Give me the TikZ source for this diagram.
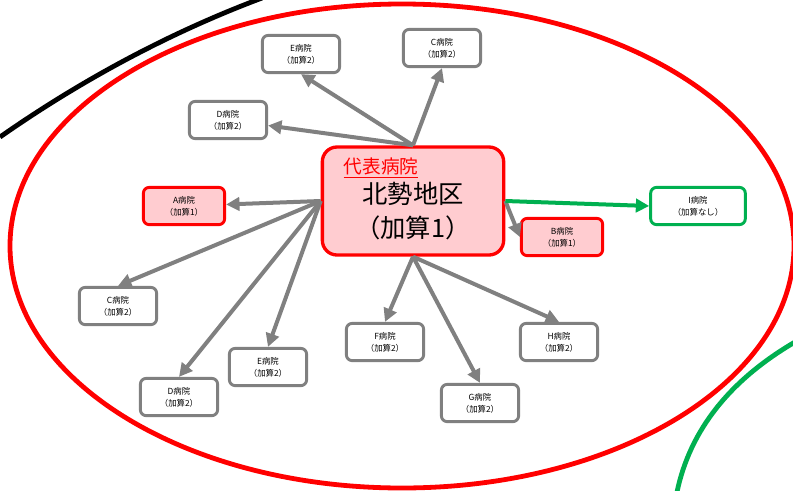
\documentclass[tikz,border=0pt]{standalone}
\usepackage{fontspec}
\setmainfont{Noto Sans CJK JP}
\usetikzlibrary{arrows.meta,positioning}
\definecolor{boxgray}{RGB}{128,128,128}
\definecolor{hubpink}{RGB}{255,204,208}
\definecolor{linkgreen}{RGB}{0,176,80}

\begin{document}
\begin{tikzpicture}[x=0.75pt, y=-0.75pt,
    hosp/.style={draw=boxgray, line width=2.2pt, rounded corners=4.5pt, fill=white,
                 minimum width=58pt, minimum height=28pt, inner sep=1pt, align=center,
                 font=\fontsize{6.3}{9}\selectfont},
    hospone/.style={hosp, draw=red, fill=hubpink, minimum width=61pt},
    hospnone/.style={hosp, draw=linkgreen, minimum width=71pt},
    link/.style={draw=boxgray, line width=3pt, -{Triangle[length=10pt,width=10pt]}}]
    \useasboundingbox (0,0) rectangle (793,490);

    % area outlines
    \draw[red, line width=3.6pt] (402,246) ellipse [x radius=392, y radius=242];
    \draw[black, line width=3.6pt] (0,137) .. controls (60,95) and (150,40) .. (262,-2);
    \draw[linkgreen, line width=3.6pt] (677,492) .. controls (690,430) and (730,380) .. (795,342);

    % representative hospital
    \node[draw=red, line width=2.5pt, rounded corners=11pt, fill=hubpink,
          minimum width=136pt, minimum height=81pt] (hub) at (413,201) {};
    \node[red, font=\fontsize{14}{16}\selectfont] (hubtag) at (381,168) {\underline{代表病院}};
    \node[align=center, font=\fontsize{19}{25}\selectfont] (hubname) at (413,211) {北勢地区\\（加算1）};

    % hospitals
    \node[hosp] (Etop) at (301,54) {E病院\\（加算2）};
    \node[hosp] (Ctop) at (442,48) {C病院\\（加算2）};
    \node[hosp] (Dtop) at (228,120) {D病院\\（加算2）};
    \node[hospone] (A) at (184,206) {A病院\\（加算1）};
    \node[hospone] (B) at (562,237) {B病院\\（加算1）};
    \node[hospnone] (I) at (698,206) {I病院\\（加算なし）};
    \node[hosp] (Cbot) at (118,306) {C病院\\（加算2）};
    \node[hosp] (Dbot) at (179,397) {D病院\\（加算2）};
    \node[hosp] (Ebot) at (268,367) {E病院\\（加算2）};
    \node[hosp] (F) at (385,342) {F病院\\（加算2）};
    \node[hosp] (G) at (480,403) {G病院\\（加算2）};
    \node[hosp] (H) at (559,342) {H病院\\（加算2）};

    % links
    \draw[link] (hub.north) -- (Etop.south);
    \draw[link] (hub.north) -- (Ctop.south);
    \draw[link] (hub.north) -- (Dtop);
    \draw[link] (hub.west) -- (A);
    \draw[link] (hub.west) -- (Cbot.north);
    \draw[link] (hub.west) -- (Dbot.north);
    \draw[link] (hub.west) -- (Ebot.north);
    \draw[link] (hub.south) -- (F.north);
    \draw[link] (hub.south) -- (G.north);
    \draw[link] (hub.south) -- (H.north);
    \draw[link] (hub.east) -- (B.west);
    \draw[link, draw=linkgreen] (hub.east) -- (I.west);
\end{tikzpicture}
\end{document}
